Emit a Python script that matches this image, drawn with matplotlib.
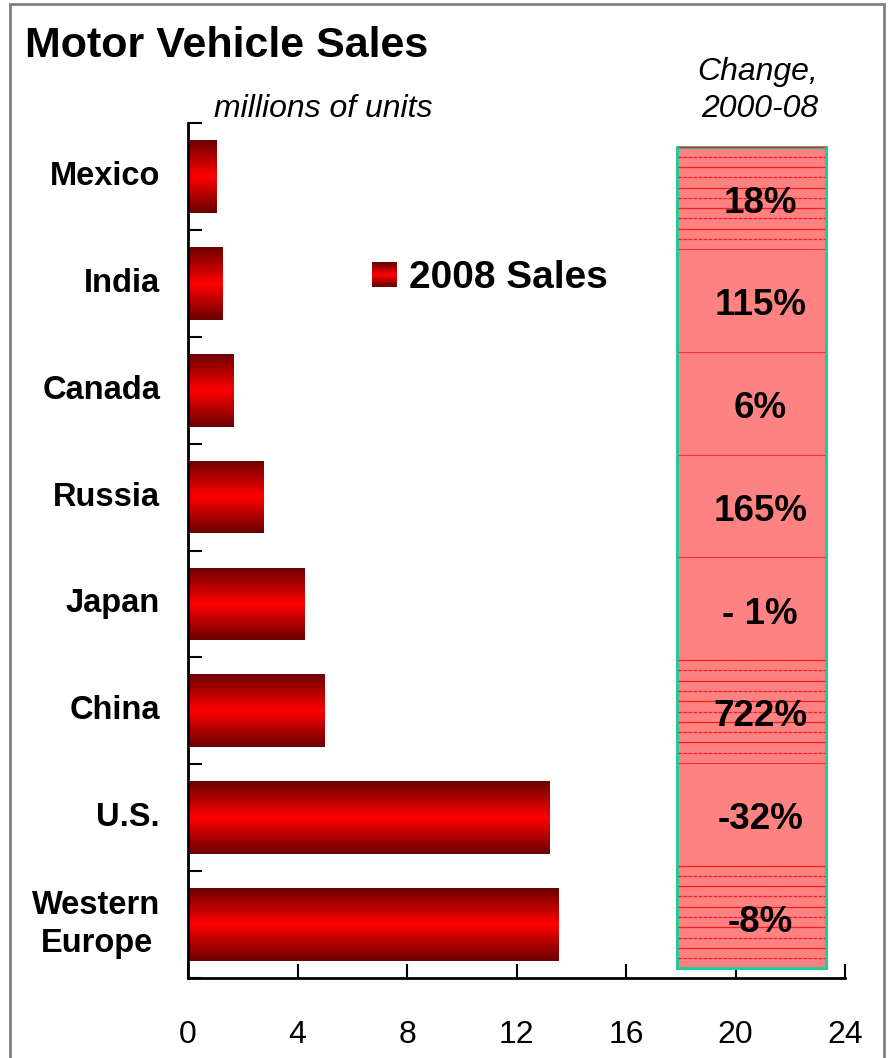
import matplotlib.pyplot as plt
import numpy as np
from matplotlib.colors import LinearSegmentedColormap
from matplotlib.patches import Rectangle
from matplotlib.legend_handler import HandlerBase

plt.rcParams['font.family'] = ['Liberation Sans', 'DejaVu Sans']

# data, bottom to top
countries = ['Western\nEurope', 'U.S.', 'China', 'Japan', 'Russia', 'Canada', 'India', 'Mexico']
sales_2008 = [13.55, 13.2, 5.0, 4.25, 2.75, 1.65, 1.25, 1.05]
change_labels = ['-8%', '-32%', '722%', '- 1%', '165%', '6%', '115%', '18%']
xticks = [0, 4, 8, 12, 16, 20, 24]

grad = LinearSegmentedColormap.from_list('bar', ['#6a0000', '#ff0000', '#6a0000'])
grad_img = np.linspace(0, 1, 256).reshape(-1, 1)

fig = plt.figure(figsize=(8.91, 10.58), dpi=100)
fig.patches.append(Rectangle((10 / 891, -0.02), 874 / 891, 1.02 - 4 / 1058,
                             transform=fig.transFigure, fill=False,
                             edgecolor='#808080', linewidth=2))
ax = fig.add_axes([188 / 891, 1 - 978 / 1058, 657 / 891, 855 / 1058])

y = np.arange(len(countries))
bars = ax.barh(y, sales_2008, height=0.68, color='none', edgecolor='none')
for b in bars:
    x0, y0 = b.get_x(), b.get_y()
    im = ax.imshow(grad_img, cmap=grad, aspect='auto', interpolation='bilinear',
                   extent=(x0, x0 + b.get_width(), y0, y0 + b.get_height()), zorder=2)
    im.set_clip_path(b)

# change box
box_x0, box_x1 = 17.86, 23.3
box_y0, box_y1 = -0.41, 7.28
seg = (box_y1 - box_y0) / len(countries)
ax.add_patch(Rectangle((box_x0, box_y0), box_x1 - box_x0, box_y1 - box_y0,
                       facecolor='#ff8282', edgecolor='#22cc99', linewidth=2.2, zorder=3))
hatched = [0, 2, 7]
for i in range(len(countries)):
    s0 = box_y0 + i * seg
    if i in hatched:
        for k, yy in enumerate(np.linspace(s0 + seg * 0.1, s0 + seg, 10)):
            ax.hlines(yy, box_x0 + 0.03, box_x1 - 0.03, color='#ff1a1a',
                      linewidth=0.9, linestyle='-' if k % 2 else (0, (3, 1)), zorder=3)
    elif i < len(countries) - 1:
        ax.hlines(s0 + seg, box_x0 + 0.03, box_x1 - 0.03, color='#ff3030',
                  linewidth=0.8, zorder=3)
    ax.text(20.9, s0 + seg / 2 - 0.05, change_labels[i], ha='center', va='center',
            fontsize=26.5, fontweight='bold', zorder=4)

ax.set_xlim(0, 24)
ax.set_ylim(-0.5, 7.5)
ax.set_xticks(xticks)
ax.set_xticklabels([str(t) for t in xticks], fontsize=23)
ax.set_yticks(np.arange(-0.5, 8, 1))
ax.set_yticklabels([])
for i, c in enumerate(countries):
    if '\n' in c:
        ax.text(-3.34, i, c, ha='center', va='center', fontsize=23.5,
                fontweight='bold', linespacing=1.3)
    else:
        ax.text(-1.02, i, c, ha='right', va='center', fontsize=23.5,
                fontweight='bold')
ax.tick_params(axis='both', direction='in', length=10, width=1.5)
ax.tick_params(axis='x', pad=30)
for side in ['top', 'right']:
    ax.spines[side].set_visible(False)
for side in ['left', 'bottom']:
    ax.spines[side].set_linewidth(2)


class GradHandler(HandlerBase):
    def create_artists(self, legend, orig, xd, yd, width, height, fontsize, trans):
        n = 20
        arts = []
        side = 18
        x0 = xd
        y0 = yd + (height - side) / 2
        for j in range(n):
            r = Rectangle((x0, y0 + side * j / n), side, side / n + 0.2,
                          facecolor=grad(j / (n - 1)), edgecolor='none', transform=trans)
            arts.append(r)
        return arts


ax.legend([bars[0]], ['2008 Sales'], handler_map={type(bars[0]): GradHandler()},
          loc='center left', bbox_to_anchor=((372 - 188) / 657, 1 - (278 - 123) / 855),
          frameon=False, prop={'size': 28, 'weight': 'bold'},
          handlelength=0.55, handletextpad=0.4, borderpad=0, borderaxespad=0)

fig.text(25 / 891, 1 - 46 / 1058, 'Motor Vehicle Sales', fontsize=31,
         fontweight='bold', va='center', ha='left')
fig.text(432 / 891, 1 - 109 / 1058, 'millions of units', fontsize=23,
         style='italic', va='center', ha='right')
fig.text(818 / 891, 1 - 72 / 1058, 'Change,', fontsize=23,
         style='italic', va='center', ha='right')
fig.text(818 / 891, 1 - 109 / 1058, '2000-08', fontsize=23,
         style='italic', va='center', ha='right')

fig.savefig('out.png', dpi=100)
